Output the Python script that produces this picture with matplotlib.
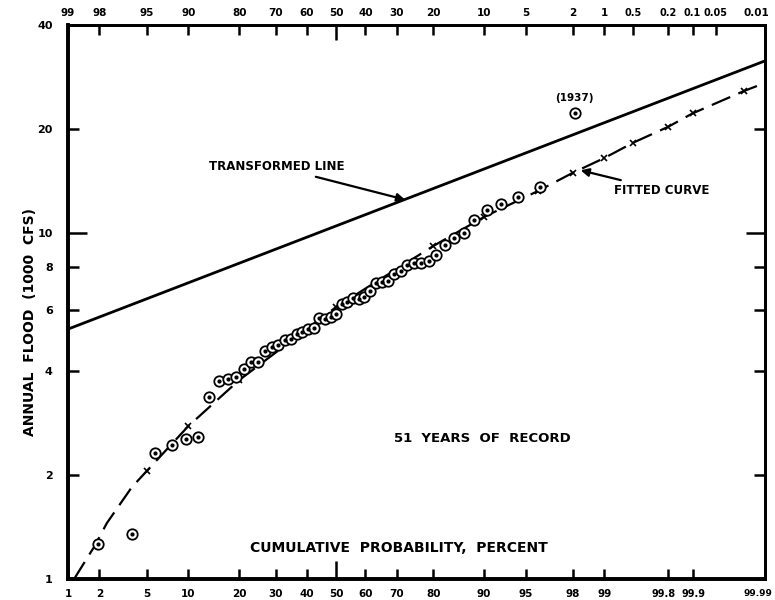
import matplotlib
matplotlib.use('Agg')
import numpy as np
import matplotlib.pyplot as plt
import matplotlib.transforms as mtrans
from statistics import NormalDist

# Datos
# 51 crecidas anuales, posicion de Weibull m/(n+1)
n_anios = 51
caudales = [1.26, 1.35, 2.31, 2.44, 2.54, 2.57, 3.35, 3.74, 3.80, 3.84,
            4.06, 4.23, 4.24, 4.56, 4.70, 4.74, 4.92, 4.94, 5.10, 5.19,
            5.27, 5.33, 5.67, 5.64, 5.71, 5.84, 6.23, 6.31, 6.51, 6.47,
            6.55, 6.82, 7.19, 7.23, 7.29, 7.61, 7.79, 8.09, 8.18, 8.22,
            8.31, 8.65, 9.25, 9.67, 10.03, 10.92, 11.68, 12.15, 12.75, 13.57,
            22.2]
prob_obs = [100.0 * m / (n_anios + 1) for m in range(1, n_anios + 1)]

# Linea transformada (recta)
linea_pct = [1.0, 99.99]
linea_val = [5.28, 31.5]

# Curva ajustada
curva_pct = [1.15, 1.82, 2.33, 3.8, 5, 10, 20, 50, 80, 90, 96, 98, 99,
             99.5, 99.8, 99.9, 99.98, 99.99]
curva_val = [1.0, 1.25, 1.45, 1.84, 2.05, 2.77, 3.76, 6.12, 9.18, 11.14,
             13.25, 14.96, 16.5, 18.27, 20.3, 22.2, 25.8, 27.2]
marcas_pct = [5, 10, 20, 50, 80, 90, 96, 98, 99, 99.5, 99.8, 99.9, 99.98]
marcas_val = [2.05, 2.77, 3.76, 6.12, 9.18, 11.14, 13.25, 14.96, 16.5,
              18.27, 20.3, 22.2, 25.8]

# Ejes
ticks_abajo = [1, 2, 5, 10, 20, 30, 40, 50, 60, 70, 80, 90, 95, 98, 99,
               99.8, 99.9, 99.99]
etiq_abajo = ['1', '2', '5', '10', '20', '30', '40', '50', '60', '70', '80',
              '90', '95', '98', '99', '99.8', '99.9', '99.99']
ticks_arriba = [1, 2, 5, 10, 20, 30, 40, 50, 60, 70, 80, 90, 95, 98, 99,
                99.5, 99.8, 99.9, 99.95, 99.99]
etiq_arriba = ['99', '98', '95', '90', '80', '70', '60', '50', '40', '30',
               '20', '10', '5', '2', '1', '0.5', '0.2', '0.1', '0.05', '0.01']
ticks_y = [1, 2, 4, 6, 8, 10, 20, 40]

normal = NormalDist()


def pct_a_z(p):
    p = np.clip(np.asarray(p, dtype=float), 1e-7, 100 - 1e-7)
    return np.vectorize(lambda v: normal.inv_cdf(v / 100.0), otypes=[float])(p)


def z_a_pct(z):
    z = np.asarray(z, dtype=float)
    return np.vectorize(lambda v: normal.cdf(v) * 100.0, otypes=[float])(z)


def mover(lab, dx_pt):
    lab.set_transform(lab.get_transform() + mtrans.ScaledTranslation(
        dx_pt / 72, 0, fig.dpi_scale_trans))


plt.rcParams['font.family'] = ['DejaVu Sans']
plt.rcParams['font.weight'] = 'bold'

fig = plt.figure(figsize=(7.75, 6), dpi=100)
ax = fig.add_axes([68 / 775, 21 / 600, 697 / 775, 554 / 600])

ax.set_xscale('function', functions=(pct_a_z, z_a_pct))
ax.set_yscale('log')
ax.set_xlim(1, 99.99)
ax.set_ylim(1, 40)

# linea transformada
ax.plot(linea_pct, linea_val, color='black', lw=2, solid_capstyle='butt')
# curva ajustada
ax.plot(curva_pct, curva_val, color='black', lw=1.6, dashes=(9, 4))
ax.plot(marcas_pct, marcas_val, ls='none', marker='x', color='black',
        ms=5, mew=1.2)
# observaciones
ax.plot(prob_obs, caudales, ls='none', marker='o', mfc='white', mec='black',
        ms=7.5, mew=1.3)
ax.plot(prob_obs, caudales, ls='none', marker='o', color='black', ms=2)

# ticks
ax.set_xticks(ticks_abajo)
ax.set_xticklabels(etiq_abajo)
ax.xaxis.set_minor_locator(matplotlib.ticker.NullLocator())
ax.set_yticks(ticks_y)
ax.set_yticklabels([str(t) for t in ticks_y])
ax.yaxis.set_minor_locator(matplotlib.ticker.NullLocator())
ax.tick_params(axis='x', direction='in', length=7, width=1.8, pad=7,
               labelsize=7.5)
ax.tick_params(axis='y', direction='in', length=8, width=1.8, pad=11,
               labelsize=8, right=True)
for t in ax.xaxis.get_major_ticks():
    if t.get_loc() == 50:
        t.tick1line.set_markersize(13)
for t in ax.yaxis.get_major_ticks():
    if t.get_loc() == 10:
        t.tick1line.set_markersize(14)
        t.tick2line.set_markersize(14)

ax2 = ax.twiny()
ax2.set_xscale('function', functions=(pct_a_z, z_a_pct))
ax2.set_xlim(ax.get_xlim())
ax2.set_xticks(ticks_arriba)
ax2.set_xticklabels(etiq_arriba)
ax2.xaxis.set_minor_locator(matplotlib.ticker.NullLocator())
ax2.tick_params(axis='x', direction='in', length=7, width=1.8, pad=5,
                labelsize=7.5)
for t in ax2.xaxis.get_major_ticks():
    if t.get_loc() == 50:
        t.tick2line.set_markersize(11)

# etiquetas apretadas del extremo derecho
for lab in ax.get_xticklabels():
    if lab.get_text() == '99.8':
        lab.set_fontsize(7)
        mover(lab, -3)
    if lab.get_text() == '99.9':
        lab.set_fontsize(7)
        mover(lab, 1)
    if lab.get_text() == '99.99':
        lab.set_fontsize(6.5)
        lab.set_horizontalalignment('right')
        mover(lab, 5)
for lab in ax2.get_xticklabels():
    if lab.get_text() in ('0.1', '0.05', '0.2', '0.5'):
        lab.set_fontsize(7)
    if lab.get_text() == '0.01':
        lab.set_horizontalalignment('right')
        mover(lab, 3)

for lado, ancho in [('left', 2.6), ('bottom', 2.6), ('top', 2.0), ('right', 2.0)]:
    ax.spines[lado].set_linewidth(ancho)
    ax2.spines[lado].set_linewidth(ancho)

# textos
ax.annotate('TRANSFORMED LINE', xy=(72.5, 12.5), xycoords='data',
            xytext=(0.397, 0.744), textcoords='axes fraction',
            ha='right', va='center', fontsize=8.5,
            arrowprops=dict(arrowstyle='-|>', color='black', lw=1.6,
                            shrinkA=2, shrinkB=0, mutation_scale=12))
ax.annotate('FITTED CURVE', xy=(98.3, 15.2), xycoords='data',
            xytext=(0.783, 0.702), textcoords='axes fraction',
            ha='left', va='center', fontsize=8.5,
            arrowprops=dict(arrowstyle='-|>', color='black', lw=1.6,
                            shrinkA=2, shrinkB=0, mutation_scale=12))
ax.text(0.727, 0.868, '(1937)', transform=ax.transAxes, ha='center',
        va='center', fontsize=7.5)
ax.text(0.594, 0.2545, '51  YEARS  OF  RECORD', transform=ax.transAxes,
        ha='center', va='center', fontsize=9.5)
ax.text(0.475, 0.056, 'CUMULATIVE  PROBABILITY,  PERCENT',
        transform=ax.transAxes, ha='center', va='center', fontsize=10)
fig.text(0.039, 0.463, 'ANNUAL  FLOOD  (1000  CFS)', rotation=90,
         ha='center', va='center', fontsize=10)

fig.savefig('out.png', dpi=100)
